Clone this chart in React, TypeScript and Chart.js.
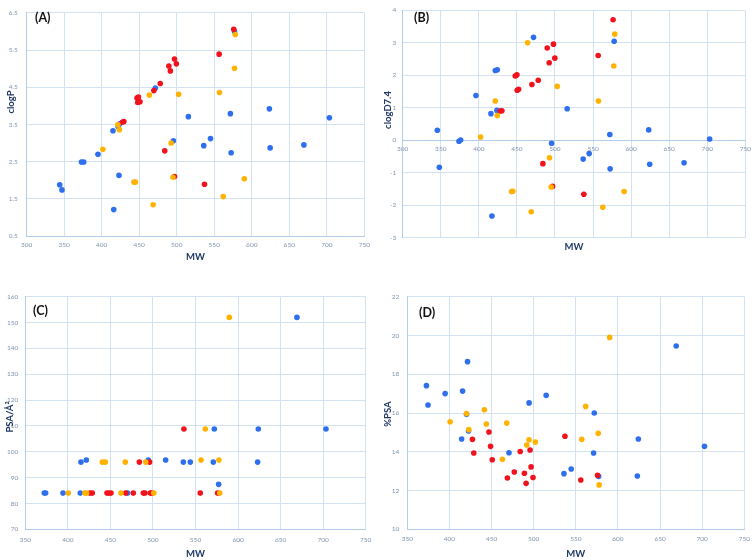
import React, { useEffect, useRef } from 'react';
import { Chart, registerables } from 'chart.js';

Chart.register(...registerables);

// ---------- DATA ----------
// Tick values
const MW_TICKS_AB = [300, 350, 400, 450, 500, 550, 600, 650, 700, 750];
const MW_TICKS_CD = [350, 400, 450, 500, 550, 600, 650, 700, 750];
const CLOGP_TICKS = [0.5, 1.5, 2.5, 3.5, 4.5, 5.5, 6.5];
const CLOGD_TICKS = [-3, -2, -1, 0, 1, 2, 3, 4];
const PSA_TICKS = [70, 80, 90, 100, 110, 120, 130, 140, 150, 160];
const PCT_TICKS = [10, 12, 14, 16, 18, 20, 22];

// Panel A: clogP vs MW
const A_blue_mw = [344, 347, 373, 376, 395, 415, 416, 422, 424, 423, 471.5, 495.5, 515.5, 536, 545, 571.5, 572.5, 577, 623.5, 624.5, 669.5, 703.5];
const A_blue_clogp = [1.88, 1.74, 2.49, 2.49, 2.7, 3.33, 1.21, 3.44, 3.52, 2.13, 4.48, 3.06, 3.71, 2.93, 3.12, 3.79, 2.74, 6.0, 3.92, 2.87, 2.95, 3.68];
const A_red_mw = [576, 556.5, 497, 499.5, 489.5, 491.5, 478, 469.5, 447, 449, 448, 451, 427.5, 429.5, 484, 497, 537];
const A_red_clogp = [6.06, 5.39, 5.26, 5.13, 5.07, 4.94, 4.6, 4.41, 4.21, 4.24, 4.09, 4.11, 3.56, 3.58, 2.79, 2.1, 1.89];
const A_orange_mw = [578, 577, 557, 502.5, 463.5, 421.5, 423.5, 401.5, 492.5, 495, 443, 445, 562, 590, 468.5];
const A_orange_clogp = [5.92, 5.01, 4.36, 4.31, 4.29, 3.49, 3.36, 2.83, 3.0, 2.08, 1.95, 1.95, 1.56, 2.04, 1.34];

// Panel B: clogD7.4 vs MW
const B_blue_mw = [471.8, 577.7, 421.6, 424.2, 396.2, 415.9, 423.7, 516, 345.5, 373.9, 376.1, 348.1, 495.5, 572, 623.1, 703.1, 537, 544.9, 572.4, 624.4, 669.5, 417.2];
const B_blue_clogd = [3.17, 3.05, 2.15, 2.17, 1.38, 0.82, 0.92, 0.97, 0.31, -0.03, 0.01, -0.83, -0.09, 0.18, 0.32, 0.04, -0.58, -0.41, -0.88, -0.74, -0.69, -2.33];
const B_red_mw = [576.3, 556.7, 498, 489.8, 499.8, 492.4, 478, 469.7, 447.8, 450, 450.4, 452.2, 428.1, 430.3, 484.1, 496.8, 537.9];
const B_red_clogd = [3.71, 2.61, 2.96, 2.84, 2.53, 2.39, 1.85, 1.72, 1.98, 2.02, 1.54, 1.57, 0.9, 0.91, -0.72, -1.42, -1.66];
const B_orange_mw = [578.5, 577.2, 557.1, 502.9, 464, 421.6, 424.2, 402.3, 492.8, 495, 443, 444.7, 468.8, 562.8, 590.8];
const B_orange_clogd = [3.27, 2.29, 1.21, 1.66, 3.0, 1.21, 0.76, 0.1, -0.54, -1.44, -1.58, -1.57, -2.2, -2.06, -1.58];

// Panel C: PSA vs MW
const C_blue_mw = [372.3, 373.9, 394.3, 414.6, 415.4, 421.7, 470.2, 494.5, 514.9, 535.7, 543.9, 570.9, 572.1, 577.2, 623, 623.8, 669.2, 703.3];
const C_blue_psa = [84, 84, 84, 84, 96, 96.8, 84, 96.8, 96.8, 96, 96, 96, 108.8, 87.4, 96, 108.8, 152, 108.8];
const C_red_mw = [426, 428.7, 446, 448.3, 450.7, 467.9, 476.9, 488.7, 490.6, 496.9, 498.8, 484, 496.1, 536.4, 555.6, 576];
const C_red_psa = [84, 84, 84, 84, 84, 84, 84, 84, 84, 84, 84, 96, 96, 108.8, 84, 84];
const C_orange_mw = [400.5, 420, 422, 440.5, 444, 467.5, 491.5, 462.5, 501, 556.5, 577.5, 561.5, 589.7, 578.5];
const C_orange_psa = [84, 84, 84, 96, 96, 96, 96, 84, 84, 96.8, 96.8, 108.8, 152, 84];

// Panel D: %PSA vs MW
const D_blue_mw = [372.7, 374.6, 394.9, 414.5, 415.6, 420.3, 421.5, 422.7, 470.7, 494.5, 514.8, 535.9, 544.5, 571.9, 571.1, 577, 623, 624.2, 669.1, 702.7];
const D_blue_pct = [17.41, 16.41, 17.0, 14.66, 17.13, 15.93, 18.65, 15.07, 13.95, 16.52, 16.91, 12.87, 13.11, 16.0, 13.94, 12.73, 12.75, 14.66, 19.46, 14.28];
const D_red_mw = [427.3, 428.9, 446.9, 448.8, 450.8, 468.8, 477, 484, 489, 491, 495.7, 496.9, 499.2, 537.1, 555.9, 575.8];
const D_red_pct = [14.64, 13.94, 15.02, 14.28, 13.59, 12.65, 12.96, 14.01, 12.89, 12.37, 14.09, 13.22, 12.67, 14.8, 12.54, 12.79];
const D_orange_mw = [400.8, 420.3, 423, 441.4, 443.8, 468, 462.9, 491.8, 494.5, 502, 561.7, 557, 576.6, 577.7, 590.2];
const D_orange_pct = [15.55, 15.97, 15.14, 16.17, 15.43, 15.48, 13.61, 14.35, 14.62, 14.5, 16.34, 14.64, 14.95, 12.29, 19.9];

// ---------- STYLE ----------
const BLUE = '#2E6FEE';
const RED = '#F0121C';
const ORANGE = '#FFB300';
const GRID = '#D3E2F1';
const AXIS = '#B3CDE8';
const TICK = '#8194AE';
const TITLE = '#1F3864';
const FONT = 'Lato, "Open Sans", "Liberation Sans", sans-serif';

type Series = { label: string; mw: number[]; val: number[]; color: string };

type PanelProps = {
  left: number; top: number; w: number; h: number;
  padTop: number; padRight: number; yWidth: number; xHeight: number;
  xTicks: number[]; yTicks: number[];
  yTitle: string; yTitleX: number; yTitleY: number; yTickPad: number;
  xTickPad: number; xTitlePadBottom: number;
  xAtZero?: boolean;
  panelLabel: string; labelX: number; labelY: number;
  series: Series[];
};

function Panel(p: PanelProps) {
  const ref = useRef<HTMLCanvasElement>(null);
  useEffect(() => {
    if (!ref.current) return;
    const datasets = p.series.map((s) => ({
      label: s.label,
      data: s.mw.map((x, i) => ({ x, y: s.val[i] })),
      backgroundColor: s.color,
      borderColor: s.color,
      borderWidth: 0,
      pointRadius: 2.8,
      pointHoverRadius: 2.8,
    }));
    const tickFont = { family: FONT, size: 6.5 };
    const titleFont = { family: FONT, size: 9.5, weight: 'bold' as const };
    const xMin = p.xTicks[0];
    const xMax = p.xTicks[p.xTicks.length - 1];
    const yMin = p.yTicks[0];
    const yMax = p.yTicks[p.yTicks.length - 1];
    const setTicks = (vals: number[]) => (s: any) => { s.ticks = vals.map((v) => ({ value: v })); };
    const scales: any = {
      x: {
        type: 'linear',
        min: xMin,
        max: xMax,
        position: p.xAtZero ? { y: 0 } : 'bottom',
        afterBuildTicks: setTicks(p.xTicks),
        ticks: { font: tickFont, color: TICK, padding: p.xTickPad, maxRotation: 0, autoSkip: false },
        grid: { color: GRID, drawTicks: false },
        border: { color: AXIS },
        title: p.xAtZero
          ? { display: false }
          : { display: true, text: 'MW', font: titleFont, color: TITLE, padding: { top: 0, bottom: p.xTitlePadBottom } },
        afterFit: p.xAtZero ? undefined : (s: any) => { s.height = p.xHeight; },
      },
      y: {
        type: 'linear',
        min: yMin,
        max: yMax,
        afterBuildTicks: setTicks(p.yTicks),
        ticks: { font: tickFont, color: TICK, padding: p.yTickPad, autoSkip: false },
        grid: { color: GRID, drawTicks: false },
        border: { color: AXIS },
        title: { display: false },
        afterFit: (s: any) => { s.width = p.yWidth; },
      },
    };
    if (p.xAtZero) {
      scales.x2 = {
        type: 'linear',
        axis: 'x',
        position: 'bottom',
        min: xMin,
        max: xMax,
        ticks: { display: false },
        grid: { display: false, drawTicks: false },
        border: { display: false },
        title: { display: true, text: 'MW', font: titleFont, color: TITLE, padding: { top: 0, bottom: p.xTitlePadBottom } },
        afterFit: (s: any) => { s.height = p.xHeight; },
      };
    }
    const chart = new Chart(ref.current, {
      type: 'scatter',
      data: { datasets },
      options: {
        responsive: false,
        animation: false,
        layout: { padding: { top: p.padTop, right: p.padRight, left: 0, bottom: 0 } },
        plugins: { legend: { display: false }, tooltip: { enabled: false } },
        scales,
      },
    });
    return () => chart.destroy();
  }, []);
  return (
    <div style={{ position: 'absolute', left: p.left, top: p.top, width: p.w, height: p.h }}>
      <canvas ref={ref} width={p.w} height={p.h} style={{ width: p.w, height: p.h, display: 'block' }} />
      <div
        style={{
          position: 'absolute', left: p.yTitleX, top: p.yTitleY, transform: 'translate(-50%, -50%) rotate(-90deg)',
          fontFamily: FONT, fontWeight: 700, fontSize: 9.5, lineHeight: '11px', color: TITLE, whiteSpace: 'nowrap',
        }}
      >
        {p.yTitle}
      </div>
      <div
        style={{
          position: 'absolute', left: p.labelX, top: p.labelY, fontFamily: FONT, fontWeight: 700,
          fontSize: 12.5, lineHeight: '12px', color: '#111', whiteSpace: 'nowrap',
        }}
      >
        {p.panelLabel}
      </div>
    </div>
  );
}

export default function App() {
  return (
    <div style={{ position: 'absolute', left: 0, top: 0, width: 756, height: 560, background: '#fff', overflow: 'hidden' }}>
      <Panel
        left={0} top={0} w={378} h={280}
        padTop={5} padRight={13.7} yWidth={26.7} xHeight={44}
        xTicks={MW_TICKS_AB} yTicks={CLOGP_TICKS}
        yTitle="clogP" yTitleX={10} yTitleY={102} yTickPad={9}
        xTickPad={5} xTitlePadBottom={17.6}
        panelLabel="(A)" labelX={35} labelY={12}
        series={[
          { label: 'Series 3', mw: A_orange_mw, val: A_orange_clogp, color: ORANGE },
          { label: 'Series 2', mw: A_red_mw, val: A_red_clogp, color: RED },
          { label: 'Series 1', mw: A_blue_mw, val: A_blue_clogp, color: BLUE },
        ]}
      />
      <Panel
        left={378} top={0} w={378} h={280}
        padTop={4.3} padRight={10.3} yWidth={24.7} xHeight={42.3}
        xTicks={MW_TICKS_AB} yTicks={CLOGD_TICKS}
        yTitle="clogD7.4" yTitleX={9} yTitleY={110} yTickPad={6.5}
        xTickPad={5} xTitlePadBottom={27.3} xAtZero
        panelLabel="(B)" labelX={36} labelY={12}
        series={[
          { label: 'Series 3', mw: B_orange_mw, val: B_orange_clogd, color: ORANGE },
          { label: 'Series 2', mw: B_red_mw, val: B_red_clogd, color: RED },
          { label: 'Series 1', mw: B_blue_mw, val: B_blue_clogd, color: BLUE },
        ]}
      />
      <Panel
        left={0} top={280} w={378} h={280}
        padTop={16.7} padRight={12.3} yWidth={25.3} xHeight={30.7}
        xTicks={MW_TICKS_CD} yTicks={PSA_TICKS}
        yTitle="PSA/Å²" yTitleX={9} yTitleY={137} yTickPad={7}
        xTickPad={6.5} xTitlePadBottom={0}
        panelLabel="(C)" labelX={33} labelY={25}
        series={[
          { label: 'Series 3', mw: C_orange_mw, val: C_orange_psa, color: ORANGE },
          { label: 'Series 2', mw: C_red_mw, val: C_red_psa, color: RED },
          { label: 'Series 1', mw: C_blue_mw, val: C_blue_psa, color: BLUE },
        ]}
      />
      <Panel
        left={378} top={280} w={378} h={280}
        padTop={16.7} padRight={7.3} yWidth={29.3} xHeight={30.7}
        xTicks={MW_TICKS_CD} yTicks={PCT_TICKS}
        yTitle="%PSA" yTitleX={9} yTitleY={134} yTickPad={8}
        xTickPad={6} xTitlePadBottom={0}
        panelLabel="(D)" labelX={41} labelY={27}
        series={[
          { label: 'Series 3', mw: D_orange_mw, val: D_orange_pct, color: ORANGE },
          { label: 'Series 2', mw: D_red_mw, val: D_red_pct, color: RED },
          { label: 'Series 1', mw: D_blue_mw, val: D_blue_pct, color: BLUE },
        ]}
      />
    </div>
  );
}
